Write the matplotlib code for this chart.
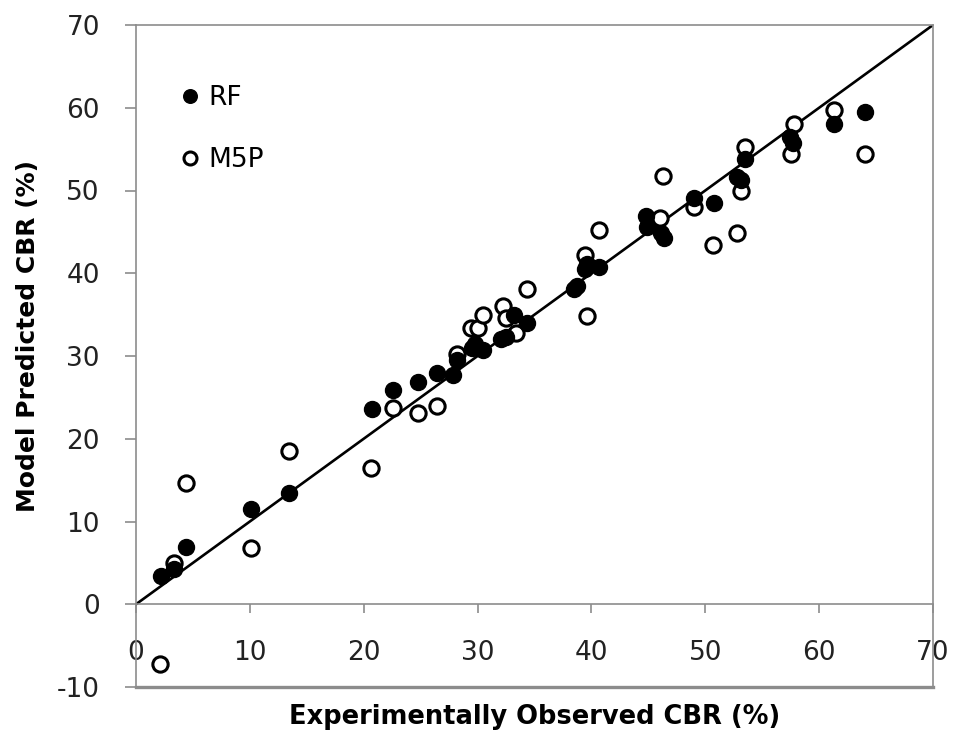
import matplotlib.pyplot as plt
import numpy as np

# experimentally observed vs predicted CBR (%)
rf_obs = [2.2, 3.3, 4.4, 10.1, 13.4, 20.7, 22.6, 24.8, 26.4, 27.8, 28.2, 29.5, 29.8,
          30.5, 32.1, 32.5, 33.2, 34.3, 38.5, 38.7, 39.4, 39.6, 40.7, 44.8, 44.9,
          46.1, 46.4, 49.0, 50.8, 52.8, 53.1, 53.5, 57.4, 57.7, 61.3, 64.0]
rf_pred = [3.4, 4.2, 6.9, 11.5, 13.5, 23.6, 25.9, 26.9, 27.9, 27.7, 29.5, 31.0, 31.5,
           30.7, 32.1, 32.3, 34.9, 34.0, 38.1, 38.5, 40.5, 41.1, 40.8, 46.9, 45.6,
           44.9, 44.3, 49.1, 48.5, 51.6, 51.3, 53.8, 56.5, 55.8, 58.0, 59.5]

m5p_obs = [2.1, 3.3, 4.4, 10.1, 13.4, 20.6, 22.6, 24.8, 26.4, 28.2, 29.4, 30.0, 30.5,
           32.2, 32.5, 33.4, 34.3, 39.4, 39.6, 40.7, 46.0, 46.3, 49.0, 50.7, 52.8,
           53.1, 53.5, 57.5, 57.8, 61.3, 64.0]
m5p_pred = [-7.2, 5.0, 14.6, 6.8, 18.5, 16.5, 23.7, 23.1, 24.0, 30.2, 33.4, 33.4, 34.9,
            36.1, 34.6, 32.8, 38.1, 42.2, 34.8, 45.2, 46.7, 51.8, 48.0, 43.4, 44.9,
            49.9, 55.3, 54.4, 58.0, 59.7, 54.4]

line_x = [0, 70]

plt.rcParams['font.family'] = ['DejaVu Sans']
plt.rcParams['axes.unicode_minus'] = False
grey = '#8c8c8c'

fig = plt.figure(figsize=(9.59, 7.34), dpi=100)
ax = fig.add_axes([136/959, 1 - 687/734, (933-136)/959, (687-25)/734])

ax.plot(line_x, line_x, color='black', lw=1.9, zorder=2)
m5p, = ax.plot(m5p_obs, m5p_pred, 'o', ms=11, mfc='white', mec='black', mew=2.2,
               ls='none', label='M5P', zorder=3)
rf, = ax.plot(rf_obs, rf_pred, 'o', ms=11.5, mfc='black', mec='black', mew=1,
              ls='none', label='RF', zorder=4)

ax.set_xlim(0, 70)
ax.set_ylim(-10, 70)
ax.set_xticks(np.arange(0, 71, 10))
ax.set_yticks(np.arange(-10, 71, 10))

ax.spines['bottom'].set_position(('data', 0))
for s in ax.spines.values():
    s.set_color(grey)
    s.set_linewidth(1.2)
ax.axhline(-10, color=grey, lw=2.4, clip_on=False, zorder=1)

ax.tick_params(axis='x', direction='out', length=6.5, width=1.2, color=grey,
               labelsize=19, pad=19, labelcolor='#222222')
ax.tick_params(axis='y', direction='out', length=8, width=1.2, color=grey,
               labelsize=19, pad=18, labelcolor='#222222')

fig.text(535/959, 1 - 717/734, 'Experimentally Observed CBR (%)', ha='center',
         va='center', fontsize=18.5, fontweight='bold')
fig.text(28/959, 1 - 336/734, 'Model Predicted CBR (%)', ha='center', va='center',
         rotation=90, fontsize=18, fontweight='bold')

ax.legend(handles=[rf, m5p], loc='upper left', bbox_to_anchor=(0.043, 0.925),
          frameon=False, fontsize=19, handlelength=0.7, handletextpad=0.35,
          labelspacing=1.35, borderaxespad=0, markerscale=0.85)

fig.savefig('out.png', dpi=100)
